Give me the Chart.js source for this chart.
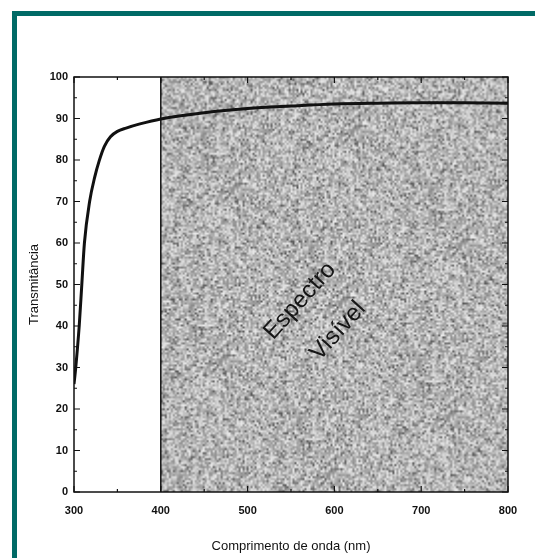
<!DOCTYPE html>
<html>
<head>
<meta charset="utf-8">
<script src="https://cdn.jsdelivr.net/npm/chart.js@4.4.0/dist/chart.umd.min.js"></script>
<style>
  body { margin: 0; background: #fff; }
  #wrap { position: relative; width: 535px; height: 558px; overflow: hidden; }
  #frameTop { position: absolute; left: 12px; top: 11px; width: 523px; height: 5px; background: #006a66; }
  #frameLeft { position: absolute; left: 12px; top: 11px; width: 5px; height: 547px; background: #006a66; }
  canvas { position: absolute; left: 0; top: 0; }
</style>
</head>
<body>
<div id="wrap">
  <canvas id="myChart" width="535" height="558"></canvas>
  <div id="frameTop"></div>
  <div id="frameLeft"></div>
</div>
<script>
// dados
const comprimento = [300, 302, 306, 309, 312, 318, 324, 329, 335, 342, 350, 360, 376, 400, 450, 500, 550, 600, 650, 700, 750, 800];
const transmitancia = [26, 30, 40, 50, 60, 70, 76, 79.8, 83.3, 85.6, 86.9, 87.7, 88.7, 89.9, 91.4, 92.4, 93, 93.5, 93.7, 93.8, 93.8, 93.7];
const espectro_inicio = 400;
const espectro_fim = 800;
const texto_espectro = ["Espectro", "Visível"];

const fonte = "'Liberation Sans Narrow', 'Liberation Sans', Arial, sans-serif";

// textura cinzenta (ruido fixo, so para o aspecto)
function textura(w, h) {
  const nw = Math.ceil(w / 2), nh = Math.ceil(h / 2);
  const c = document.createElement("canvas");
  c.width = nw; c.height = nh;
  const g = c.getContext("2d");
  const img = g.createImageData(nw, nh);
  let s = 12345;
  function rnd() { s = (s * 1103515245 + 12345) % 2147483648; return s / 2147483648; }
  for (let i = 0; i < nw * nh; i++) {
    let v = 140 + rnd() * 95;
    if (rnd() < 0.1) v = 85 + rnd() * 45;
    img.data[i * 4] = v; img.data[i * 4 + 1] = v; img.data[i * 4 + 2] = v; img.data[i * 4 + 3] = 255;
  }
  g.putImageData(img, 0, 0);
  return c;
}

const zonaVisivel = {
  id: "zonaVisivel",
  beforeDatasetsDraw(chart) {
    const ctx = chart.ctx, a = chart.chartArea;
    const xs = chart.scales.x;
    const x0 = xs.getPixelForValue(espectro_inicio), x1 = xs.getPixelForValue(espectro_fim);
    const w = x1 - x0, h = a.bottom - a.top;
    ctx.save();
    ctx.imageSmoothingEnabled = true;
    ctx.drawImage(textura(w, h), x0, a.top, w, h);
    ctx.strokeStyle = "#111";
    ctx.lineWidth = 1.5;
    ctx.beginPath(); ctx.moveTo(x0, a.top); ctx.lineTo(x0, a.bottom); ctx.stroke();
    ctx.restore();
    // texto rodado
    const pos = [[300, 301], [338, 331]];
    for (let i = 0; i < texto_espectro.length; i++) {
      ctx.save();
      ctx.fillStyle = "#151515";
      ctx.font = "24px 'Liberation Sans', Arial, sans-serif";
      ctx.textAlign = "center";
      ctx.textBaseline = "middle";
      ctx.translate(pos[i][0], pos[i][1]);
      ctx.rotate(-48 * Math.PI / 180);
      ctx.fillText(texto_espectro[i], 0, 0);
      ctx.restore();
    }
  },
  afterDatasetsDraw(chart) {
    const ctx = chart.ctx, a = chart.chartArea;
    const xs = chart.scales.x, ys = chart.scales.y;
    ctx.save();
    ctx.strokeStyle = "#111";
    ctx.lineWidth = 1.5;
    ctx.strokeRect(a.left, a.top, a.right - a.left, a.bottom - a.top);
    ctx.lineWidth = 1.2;
    ctx.beginPath();
    for (let v = 300; v <= 800; v += 50) {
      const x = xs.getPixelForValue(v);
      const L = v % 100 === 0 ? 6 : 3;
      ctx.moveTo(x, a.bottom); ctx.lineTo(x, a.bottom - L);
      ctx.moveTo(x, a.top); ctx.lineTo(x, a.top + L);
    }
    for (let v = 0; v <= 100; v += 5) {
      const y = ys.getPixelForValue(v);
      const L = v % 10 === 0 ? 6 : 3;
      ctx.moveTo(a.left, y); ctx.lineTo(a.left + L, y);
      ctx.moveTo(a.right, y); ctx.lineTo(a.right - L, y);
    }
    ctx.stroke();
    ctx.restore();
  }
};

const ctx = document.getElementById("myChart");
const myChart = new Chart(ctx, {
  type: "line",
  data: {
    datasets: [
      {
        data: comprimento.map((c, i) => ({ x: c, y: transmitancia[i] })),
        borderColor: "#111",
        borderWidth: 3,
        pointRadius: 0,
        cubicInterpolationMode: "monotone",
        fill: false,
      },
    ],
  },
  options: {
    responsive: false,
    animation: false,
    layout: { padding: { left: 0, right: 27, top: 77, bottom: 0 } },
    plugins: { legend: { display: false }, tooltip: { enabled: false } },
    scales: {
      x: {
        type: "linear",
        min: 300,
        max: 800,
        grid: { display: false, drawTicks: false },
        border: { display: false },
        ticks: { stepSize: 100, padding: 12, color: "#111", font: { family: fonte, size: 11, weight: "bold" } },
        title: { display: true, text: "Comprimento de onda (nm)", color: "#111", padding: { top: 10 }, font: { family: fonte, size: 13 } },
        afterFit(scale) { scale.height = 66; },
      },
      y: {
        min: 0,
        max: 100,
        grid: { display: false, drawTicks: false },
        border: { display: false },
        ticks: { stepSize: 10, padding: 6, color: "#111", font: { family: fonte, size: 11, weight: "bold" } },
        title: { display: true, text: "Transmitância", color: "#111", padding: { top: 27 }, font: { family: fonte, size: 13 } },
        afterFit(scale) { scale.width = 74; },
      },
    },
  },
  plugins: [zonaVisivel],
});
</script>
</body>
</html>
